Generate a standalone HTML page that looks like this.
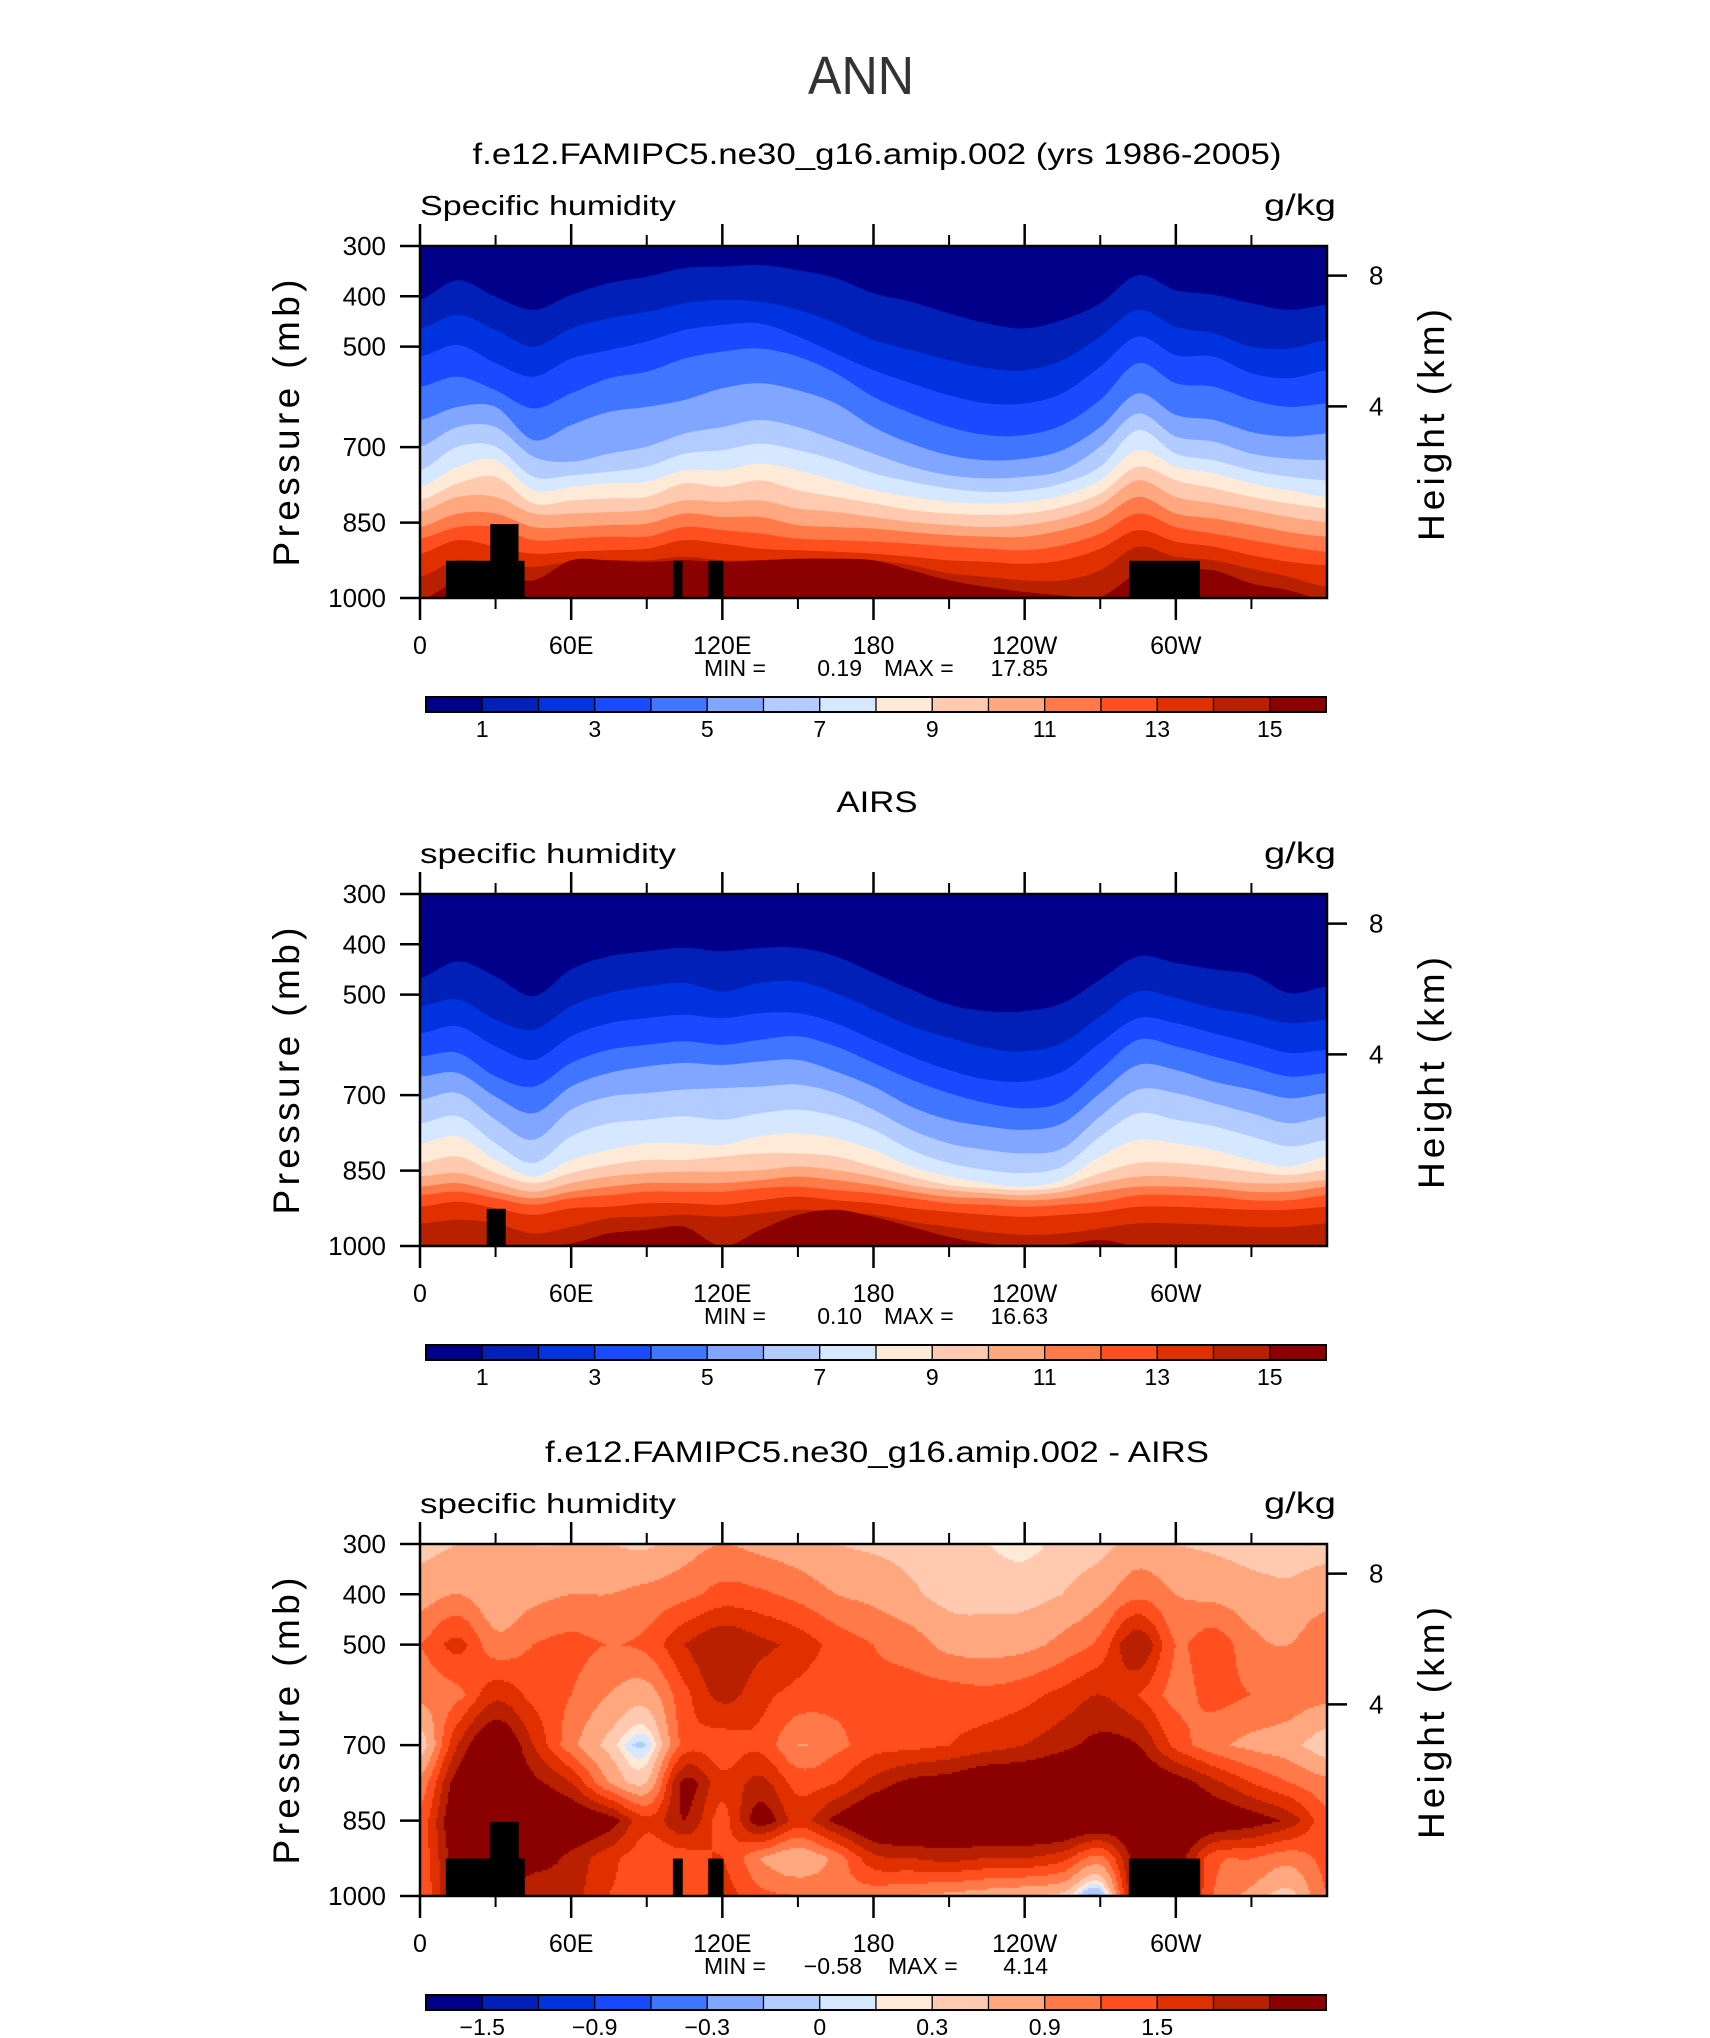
<!DOCTYPE html>
<html><head><meta charset="utf-8"><title>ANN specific humidity</title>
<style>
html,body{margin:0;padding:0;background:#fff;}
#wrap{position:relative;width:1710px;height:2038px;overflow:hidden;}
svg{position:absolute;left:0;top:0;}
canvas{position:absolute;}
text{font-family:"Liberation Sans",sans-serif;fill:#000;}
</style></head>
<body>
<div id="wrap">
<canvas id="diffCanvas"></canvas>
<svg id="fig" width="1710" height="2038" xmlns="http://www.w3.org/2000/svg"></svg>
</div>
<script>
// ---------- data ----------
const lons = [0,15,30,45,60,75,90,105,120,135,150,165,180,195,210,225,240,255,270,285,300,315,330,345,360];
const qLevels = [1,2,3,4,5,6,7,8,9,10,11,12,13,14,15];
const qTickLabels = ['1','3','5','7','9','11','13','15'];
const diffLevels = [-1.8,-1.5,-1.2,-0.9,-0.6,-0.3,-0.1,0,0.1,0.3,0.6,0.9,1.2,1.5,1.8];
const diffTickLabels = ['\u22121.5','\u22120.9','\u22120.3','0','0.3','0.9','1.5'];
const pTicks = [300,400,500,700,850,1000];
const hTicks = [8,4];
const hTickPressure = [359,619];
const lonMajor = [0,60,120,180,240,300];
const lonLabels = ['0','60E','120E','180','120W','60W'];
const lonMinor = [30,90,150,210,270,330];

// model: pressure (mb) of each q isoline (1..15 g/kg) at each longitude
const modelIso = [
[407,368,401,427,397,374,361,344,341,338,348,364,394,411,434,454,464,447,414,358,388,397,414,427,417],
[464,437,467,500,464,444,431,414,407,411,427,454,487,507,527,543,547,527,480,427,461,474,500,504,487],
[520,497,533,560,524,507,490,467,457,454,480,514,547,573,597,613,613,593,540,480,517,520,553,563,547],
[580,560,587,623,593,563,550,524,510,504,520,553,600,633,660,676,676,656,606,533,573,580,606,620,613],
[646,620,620,686,656,630,620,606,583,573,587,613,660,693,716,726,723,706,660,593,636,646,670,679,673],
[699,660,660,719,729,713,699,673,660,646,660,686,713,739,756,762,759,746,699,633,679,689,713,723,726],
[746,699,699,759,756,749,739,713,706,693,706,726,752,769,782,789,786,772,739,666,713,726,746,759,766],
[779,739,726,786,779,772,769,746,746,733,746,766,786,799,809,812,809,796,766,706,739,752,772,786,799],
[806,772,759,812,806,802,799,772,779,766,786,799,812,825,832,835,832,819,792,739,766,782,799,812,822],
[829,799,799,832,832,829,825,806,809,806,822,829,839,849,855,859,855,842,815,766,799,812,825,839,849],
[859,832,832,859,859,855,852,832,839,839,855,859,862,869,875,878,878,865,842,799,832,842,855,869,878],
[882,859,859,885,882,878,878,859,865,872,882,885,888,892,898,902,905,895,872,832,859,872,885,898,908],
[912,885,898,912,908,905,902,885,892,902,905,908,912,918,925,928,932,925,902,865,888,898,915,928,935],
[958,925,932,938,928,925,925,918,925,925,922,922,925,935,951,958,965,965,945,898,918,925,942,958,978],
[1005,965,951,965,925,925,928,925,928,925,922,922,925,945,965,978,988,995,998,951,945,945,971,985,1005]
];
// AIRS: pressure (mb) of each q isoline
const airsIso = [
[467,434,464,503,450,424,414,407,414,407,407,424,457,490,520,533,533,517,470,424,437,450,460,497,484],
[523,510,550,570,523,497,484,477,494,477,474,497,530,563,586,606,613,596,543,494,507,527,540,557,550],
[577,563,603,630,583,557,547,540,547,537,537,557,590,623,650,669,673,653,596,547,557,577,596,616,610],
[623,616,663,683,636,610,600,593,600,590,583,603,636,669,696,716,726,713,650,590,603,623,643,663,656],
[663,656,703,736,683,656,643,636,640,633,630,653,683,723,749,762,769,756,696,640,650,673,689,706,696],
[709,696,749,789,729,703,696,689,686,683,679,696,729,769,796,809,816,806,742,689,696,716,736,756,742],
[756,742,796,835,782,756,749,742,749,736,729,742,769,809,835,849,855,842,782,736,749,762,782,802,789],
[796,782,829,862,829,809,796,796,799,782,776,786,809,842,862,875,882,869,822,789,796,809,829,842,822],
[835,822,855,875,855,839,829,829,822,816,816,822,842,862,879,885,889,882,855,835,835,842,852,859,849],
[862,855,875,892,875,862,855,852,852,849,842,849,862,879,889,895,899,892,875,862,862,869,875,875,869],
[882,875,892,905,892,882,875,875,875,869,862,869,879,892,902,905,909,905,892,882,882,885,892,892,882],
[899,892,905,918,905,899,892,892,892,885,882,889,895,905,915,918,922,918,912,899,899,902,909,909,899],
[922,912,925,938,925,922,915,915,918,909,902,909,915,925,932,938,942,938,932,922,922,925,928,928,922],
[955,948,955,975,962,945,942,938,942,935,928,932,938,952,962,972,978,975,965,955,955,958,962,962,955],
[1001,1001,1001,1001,995,975,968,962,1001,968,938,928,942,962,982,995,1001,998,988,1001,1001,1001,1001,1001,1001]
];
// difference grid (g/kg) at pressure levels x longitudes
const diffPres = [300,400,500,600,700,775,850,925,1000];
const diffGrid = [
[0.2,0.3,0.4,0.3,0.3,0.3,0.25,0.45,0.6,0.5,0.4,0.3,0.25,0.2,0.15,0.1,0.05,0.15,0.2,0.4,0.3,0.25,0.2,0.2,0.2],
[0.45,0.6,0.35,0.5,0.6,0.6,0.7,0.8,1.0,0.95,0.8,0.6,0.5,0.35,0.2,0.2,0.2,0.3,0.5,0.8,0.6,0.5,0.4,0.35,0.45],
[0.9,1.3,0.7,0.9,1.0,0.9,1.0,1.5,1.8,1.6,1.4,1.1,0.9,0.75,0.5,0.45,0.5,0.7,1.0,1.8,0.9,1.1,0.7,0.6,0.9],
[0.7,0.8,1.4,1.1,0.9,0.6,0.45,1.1,1.6,1.3,1.1,1.0,1.0,1.05,1.05,1.0,1.1,1.3,1.5,1.2,0.8,1.0,0.9,0.8,0.7],
[0.1,1.5,2.2,1.5,0.7,0.2,-0.1,1.0,1.0,1.1,0.6,0.8,1.05,1.1,1.2,1.35,1.5,1.7,1.9,1.8,1.1,0.7,0.5,0.4,0.1],
[0.7,2.0,2.3,1.9,1.5,0.6,0.3,1.9,1.3,1.6,1.1,1.2,1.6,1.9,2.0,2.2,2.2,2.3,2.3,2.2,2.0,1.6,1.2,0.9,0.7],
[1.0,2.2,2.3,2.2,2.2,2.0,1.3,1.8,1.1,2.0,1.4,1.9,2.3,2.4,2.4,2.4,2.4,2.4,2.3,2.2,2.3,2.2,2.0,1.7,1.0],
[1.0,2.0,2.0,2.0,1.7,1.3,1.0,1.0,1.2,0.6,0.3,0.7,1.4,1.5,1.6,1.5,1.5,1.3,0.8,2.0,2.0,1.0,0.9,0.7,1.0],
[0.9,2.0,2.0,1.5,1.6,1.2,1.1,1.0,1.3,1.0,0.9,0.8,0.7,0.6,0.5,0.4,0.3,0.2,-0.3,2.0,2.0,0.9,0.5,0.2,0.9]
];
// topography masks: [lonStart, lonEnd, topPressure]
const modelMask = [[10.3,41.5,926],[27.9,39.1,853],[100.5,104.2,926],[114.5,120.4,926],[281.5,309.6,926]];
const airsMask = [[26.5,34,926]];
const minVals = ['0.19','0.10','\u22120.58'];
const maxVals = ['17.85','16.63','4.14'];

const palette = ['#00008b','#0020b8','#0033e0','#1a4aff','#4075ff','#80a6ff','#b3ccff','#d6e8ff','#ffead8','#ffcab0','#ffa880','#ff7a48','#ff4f1e','#e03000','#b82000','#8b0000'];

// ---------- layout ----------
const NS = 'http://www.w3.org/2000/svg';
const svg = document.getElementById('fig');
const X0 = 420, X1 = 1327, PH = 352;
const tops = [246, 894, 1544];
function xS(lon){ return X0 + lon/360*(X1-X0); }
function yS(p, T){ return T + (p-300)/700*PH; }
function el(tag, attrs, parent){
  const e = document.createElementNS(NS, tag);
  for (const k in attrs) e.setAttribute(k, attrs[k]);
  (parent||svg).appendChild(e); return e;
}
function txt(str, x, y, size, anchor, parent){
  const t = el('text', {x:x, y:y, 'font-size':size, 'text-anchor':anchor||'start'}, parent);
  t.textContent = str; return t;
}
function sampleArr(arr, lon){
  const step = 15; let i = Math.floor(lon/step); if (i >= arr.length-1) i = arr.length-2;
  const t = (lon - i*step)/step;
  const p0 = arr[Math.max(i-1,0)], p1 = arr[i], p2 = arr[i+1], p3 = arr[Math.min(i+2,arr.length-1)];
  const t2=t*t, t3=t2*t;
  return 0.5*((2*p1)+(-p0+p2)*t+(2*p0-5*p1+4*p2-p3)*t2+(-p0+3*p1-3*p2+p3)*t3);
}

// ---------- title ----------
const ann = txt('ANN', 861, 94, 54, 'middle');


ann.setAttribute('textLength','106');
ann.setAttribute('lengthAdjust','spacingAndGlyphs');
ann.setAttribute('style','fill:#333');

const panelTitles = ['f.e12.FAMIPC5.ne30_g16.amip.002 (yrs 1986-2005)','AIRS','f.e12.FAMIPC5.ne30_g16.amip.002 - AIRS'];
const titleLens = [809, 81, 664];
const leftLabels = ['Specific humidity','specific humidity','specific humidity'];
const leftLens = [256, 256, 256];

function drawPanel(idx){
  const T = tops[idx];
  const g = el('g', {});
  
  

  const tt = txt(panelTitles[idx], 877, T-82, 30, 'middle', g);
  tt.setAttribute('textLength', titleLens[idx]);
  tt.setAttribute('lengthAdjust', 'spacingAndGlyphs');
  
  

  const ll = txt(leftLabels[idx], X0, T-31, 28, 'start', g);
  ll.setAttribute('textLength', leftLens[idx]);
  ll.setAttribute('lengthAdjust', 'spacingAndGlyphs');
  
  
  const ul = txt('g/kg', 1336, T-31, 30, 'end', g);
  ul.setAttribute('textLength', 72);
  ul.setAttribute('lengthAdjust', 'spacingAndGlyphs');
  
  

  const cp = el('clipPath', {id:'clip'+idx}, g);
  el('rect', {x:X0, y:T, width:X1-X0, height:PH}, cp);
  const field = el('g', {'clip-path':'url(#clip'+idx+')'}, g);
  
  

  if (idx < 2){
    const iso = idx===0 ? modelIso : airsIso;
    const bg = el('rect', {x:X0, y:T, width:X1-X0, height:PH, fill:palette[0]}, field);
    
    for (let k=0; k<qLevels.length; k++){
      let d = '';
      for (let lon=0; lon<=360; lon+=1){
        const p = sampleArr(iso[k], lon);
        d += (lon===0?'M':'L') + xS(lon).toFixed(1) + ',' + yS(p,T).toFixed(1);
      }
      d += 'L'+X1+','+(T+PH+5)+'L'+X0+','+(T+PH+5)+'Z';
      const path = el('path', {d:d, fill:palette[k+1]}, field);
      
      
    }
  }
  const masks = idx===1 ? airsMask : modelMask;
  masks.forEach(m=>{
    const r = el('rect', {x:xS(m[0]), y:yS(m[2],T), width:xS(m[1])-xS(m[0]), height:yS(1000,T)-yS(m[2],T)+2, fill:'#000'}, field);
    
    
  });

  const fr = el('rect', {x:X0, y:T, width:X1-X0, height:PH, fill:'none', stroke:'#000', 'stroke-width':2.5}, g);
  
  

  pTicks.forEach(p=>{
    const y = yS(p,T);
    el('line', {x1:X0-20, x2:X0, y1:y, y2:y, stroke:'#000', 'stroke-width':2.5}, g);
    const t = txt(String(p), 386, y+9, 26, 'end', g);
    
    
  });
  const pt = txt('Pressure (mb)', 0, 0, 37, 'middle', g);
  pt.setAttribute('transform', 'translate(299,'+(T+177)+') rotate(-90)');
  pt.setAttribute('textLength', 287);
  
  

  hTicks.forEach((h,i)=>{
    const y = yS(hTickPressure[i],T);
    el('line', {x1:X1, x2:X1+20, y1:y, y2:y, stroke:'#000', 'stroke-width':2.5}, g);
    const t = txt(String(h), 1369, y+9, 26, 'start', g);
    
    
  });
  const ht = txt('Height (km)', 0, 0, 37, 'middle', g);
  ht.setAttribute('transform', 'translate(1444,'+(T+179)+') rotate(-90)');
  ht.setAttribute('textLength', 232);
  
  

  lonMajor.forEach((lon,i)=>{
    const x = xS(lon);
    el('line', {x1:x, x2:x, y1:T-22, y2:T, stroke:'#000', 'stroke-width':2.5}, g);
    el('line', {x1:x, x2:x, y1:T+PH, y2:T+PH+22, stroke:'#000', 'stroke-width':2.5}, g);
    const t = txt(lonLabels[i], x, T+PH+56, 25, 'middle', g);
    
    
  });
  lonMinor.forEach(lon=>{
    const x = xS(lon);
    el('line', {x1:x, x2:x, y1:T-11, y2:T, stroke:'#000', 'stroke-width':2}, g);
    el('line', {x1:x, x2:x, y1:T+PH, y2:T+PH+11, stroke:'#000', 'stroke-width':2}, g);
  });

  const mg = el('g', {}, g);
  
  
  txt('MIN =', 704, T+430, 23, 'start', mg);
  txt(minVals[idx], 862, T+430, 23, 'end', mg);
  txt('MAX =', idx===2?888:884, T+430, 23, 'start', mg);
  txt(maxVals[idx], 1048, T+430, 23, 'end', mg);

  const cb = el('g', {}, g);
  
  
  const cx0 = 426, cw = 900/16, cy = T+451, chh = 15;
  palette.forEach((c,i)=>{
    const r = el('rect', {x:cx0+i*cw, y:cy, width:cw, height:chh, fill:c, stroke:'#000', 'stroke-width':1.2}, cb);
    
    
  });
  el('rect', {x:cx0, y:cy, width:900, height:chh, fill:'none', stroke:'#000', 'stroke-width':2}, cb);
  const labs = idx<2 ? qTickLabels : diffTickLabels;
  labs.forEach((l,j)=>{
    const t = txt(l, cx0+(2*j+1)*cw, cy+40, 23, 'middle', cb);
    
    
  });
}
[0,1,2].forEach(drawPanel);

// ---------- difference field on canvas ----------
(function(){
  const T = tops[2];
  const cv = document.getElementById('diffCanvas');
  cv.width = X1-X0; cv.height = PH;
  cv.style.left = X0+'px'; cv.style.top = T+'px';
  const ctx = cv.getContext('2d');
  function colorFor(v){
    let i = 0; while (i < diffLevels.length && v >= diffLevels[i]) i++;
    return palette[i];
  }
  function val(lon, p){
    let j = 0; while (j < diffPres.length-2 && p > diffPres[j+1]) j++;
    const tp = Math.min(Math.max((p-diffPres[j])/(diffPres[j+1]-diffPres[j]),0),1);
    const a = sampleArr(diffGrid[j], lon), b = sampleArr(diffGrid[j+1], lon);
    return a + (b-a)*tp;
  }
  const cell = 2;
  for (let py=0; py<PH; py+=cell){
    const p = 300 + (py+cell/2)/PH*700;
    for (let px=0; px<cv.width; px+=cell){
      const lon = (px+cell/2)/cv.width*360;
      ctx.fillStyle = colorFor(val(lon,p));
      ctx.fillRect(px, py, cell, cell);
    }
  }
  ctx.fillStyle = '#000';
  modelMask.forEach(m=>{
    const x0 = m[0]/360*cv.width, x1 = m[1]/360*cv.width;
    const y0 = (m[2]-300)/700*PH;
    ctx.fillRect(x0, y0, x1-x0, PH-y0);
  });
})();
</script>
</body></html>
